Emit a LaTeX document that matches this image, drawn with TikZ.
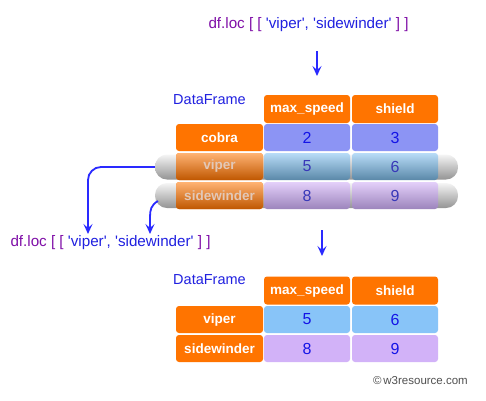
\documentclass[tikz,border=0pt]{standalone}
\usepackage{fontspec}
\setmainfont{Liberation Sans}
\newfontfamily\codefont{Liberation Sans}[Ligatures=TeXOff]
\usetikzlibrary{arrows.meta}
\definecolor{orng}{HTML}{FF7400}
\definecolor{peri}{HTML}{8C94F4}
\definecolor{lblue}{HTML}{88C4F8}
\definecolor{lpurp}{HTML}{D2B2F8}
\definecolor{valblue}{HTML}{1414E6}
\definecolor{dfblue}{HTML}{2020E0}
\definecolor{purp}{HTML}{8010A8}
\definecolor{arrblue}{HTML}{2A2AFF}
\definecolor{cpgray}{HTML}{505050}
\definecolor{vbtop}{HTML}{B8DCF8}
\definecolor{vbbot}{HTML}{5A88A8}
\definecolor{sptop}{HTML}{E4D0FA}
\definecolor{spbot}{HTML}{9C84BC}
\definecolor{otxt}{HTML}{3838B8}
\definecolor{olbltxt}{HTML}{E2C8B8}
\begin{document}
\begin{tikzpicture}[x=1pt,y=-1pt,
  cell/.style={rounded corners=3pt, minimum width=86pt, minimum height=27pt, inner sep=0pt,
    font=\fontsize{16}{16}\selectfont, text=valblue},
  hdr/.style={cell, fill=orng, text=white, minimum height=28pt, font=\bfseries\fontsize{13.5}{14}\selectfont},
  lbl/.style={cell, fill=orng, minimum width=87pt, text=white, font=\bfseries\fontsize{13.5}{14}\selectfont},
  capsule/.style={rounded corners=12pt, minimum width=303pt, minimum height=25pt, inner sep=0pt,
    top color=white!96!black, bottom color=black!42},
  olbl/.style={lbl, top color=orng!55!white, bottom color=orng!75!black, text=olbltxt},
  ovb/.style={cell, top color=vbtop, bottom color=vbbot, text=otxt},
  ovp/.style={cell, top color=sptop, bottom color=spbot, text=otxt},
  dftitle/.style={font=\fontsize{14.5}{15}\selectfont, text=dfblue, inner sep=0pt},
  code/.style={font=\codefont\fontsize{15.2}{16}\selectfont, inner sep=0pt},
  arr/.style={draw=arrblue, line width=1.8pt, -{Stealth[length=10pt,width=9pt,inset=4pt]}}
]
\useasboundingbox (0,0) rectangle (486,400);
\fill[white] (0,0) rectangle (486,400);

% top code
\node[code] (q1) at (308.5,25) {\textcolor{purp}{df.loc [ [}\ \textcolor{dfblue}{'viper', 'sidewinder'}\ \textcolor{purp}{] ]}};
\coordinate (a0s) at (317,51);
\coordinate (a0e) at (317,76);
\draw[arr] (a0s) -- (a0e);

% top table
\node[dftitle] (df1) at (209.5,100) {DataFrame};
\node[hdr] (h1) at (307,109) {max\_speed};
\node[hdr] (h2) at (395,109) {shield};
\node[lbl] (r1) at (219.5,137.5) {cobra};
\node[cell, fill=peri] (c12) at (307,137.5) {2};
\node[cell, fill=peri] (c13) at (395,137.5) {3};

\node[capsule] (cv) at (306.5,167) {};
\node[capsule] (cs) at (306.5,195.5) {};
\node[olbl] (r2) at (219.5,166.5) {viper};
\node[ovb] (c22) at (307,166.5) {5};
\node[ovb] (c23) at (395,166.5) {6};
\node[olbl] (r3) at (219.5,195.5) {sidewinder};
\node[ovp] (c32) at (307,195.5) {8};
\node[ovp] (c33) at (395,195.5) {9};

% left arrows and code
\coordinate (t1) at (88,234);
\coordinate (a2) at (158,201);
\coordinate (t2) at (150,234);
\draw[arr, rounded corners=13pt] (cv.west) -| (t1);
\draw[arr] (a2) .. controls (151,205) and (150,210) .. (150,217) -- (t2);
\node[code] (q2) at (110.5,242.5) {\textcolor{purp}{df.loc [ [}\ \textcolor{dfblue}{'viper', 'sidewinder'}\ \textcolor{purp}{] ]}};

% middle arrow
\coordinate (a1s) at (322,230);
\coordinate (a1e) at (322,256);
\draw[arr] (a1s) -- (a1e);

% bottom table
\node[dftitle] (df2) at (209.5,280) {DataFrame};
\node[hdr] (h3) at (307,290.5) {max\_speed};
\node[hdr] (h4) at (395,290.5) {shield};
\node[lbl] (r4) at (219.5,319.5) {viper};
\node[cell, fill=lblue] (c42) at (307,319.5) {5};
\node[cell, fill=lblue] (c43) at (395,319.5) {6};
\node[lbl] (r5) at (219.5,348.5) {sidewinder};
\node[cell, fill=lpurp] (c52) at (307,348.5) {8};
\node[cell, fill=lpurp] (c53) at (395,348.5) {9};

\node[font=\fontsize{11.5}{12}\selectfont, text=cpgray, anchor=east, inner sep=0pt] (cp) at (468,381) {©\,w3resource.com};
\end{tikzpicture}
\end{document}
